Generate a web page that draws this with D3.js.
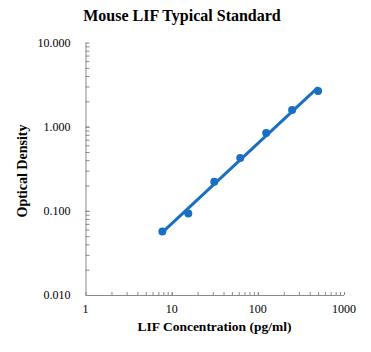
<!DOCTYPE html>
<html>
<head>
<meta charset="utf-8">
<script src="https://cdn.jsdelivr.net/npm/d3@7"></script>
<style>
  body { margin: 0; background: #fff; }
  text { font-family: "Liberation Serif", "Times New Roman", serif; }
</style>
</head>
<body>
<div id="chart"></div>
<script>
// standard curve values
var conc = [7.8, 15.6, 31.25, 62.5, 125, 250, 500];
var od = [0.057, 0.093, 0.222, 0.425, 0.84, 1.58, 2.65];
var xTicks = [1, 10, 100, 1000];
var yTicks = [0.01, 0.1, 1, 10];

var svg = d3.select("#chart")
    .append("svg")
    .attr("width", 371)
    .attr("height", 352);

var margin = {top: 42.5, right: 27, bottom: 57, left: 85.5},
    width = +svg.attr("width") - margin.left - margin.right,
    height = +svg.attr("height") - margin.top - margin.bottom;

var x = d3.scaleLog().domain([1, 1000]).range([0, width]),
    y = d3.scaleLog().domain([0.01, 10]).range([height, 0]);

var g = svg.append("g")
    .attr("transform", "translate(" + margin.left + "," + margin.top + ")");

var axisColor = "#898989";
var blue = "#1a70c0";

// minor ticks (2..9 in each decade)
function minors(dom) {
  var out = [];
  for (var d = dom[0]; d < dom[1]; d *= 10)
    for (var k = 1; k <= 10; k++) out.push(d * k);
  return out;
}

var xAxis = g.append("g")
    .attr("transform", "translate(0," + height + ")")
    .call(d3.axisBottom(x).tickValues(minors(x.domain())).tickSize(-3).tickFormat(""));
xAxis.select(".domain").attr("stroke", axisColor).attr("d", "M0.5,0.5H" + width);
xAxis.selectAll(".tick line").attr("stroke", axisColor);

g.selectAll(".xlab")
    .data(xTicks)
  .enter().append("text")
    .attr("class", "xlab")
    .attr("x", function(d) { return x(d); })
    .attr("y", height + 18)
    .attr("text-anchor", "middle")
    .style("font-size", "12px")
    .text(function(d) { return d; });

var yAxis = g.append("g")
    .call(d3.axisLeft(y).tickValues(minors(y.domain())).tickSize(-4).tickFormat(""));
yAxis.select(".domain").attr("stroke", axisColor).attr("d", "M0.5," + (height + 0.5) + "V0");
yAxis.selectAll(".tick line").attr("stroke", axisColor);

g.selectAll(".ylab")
    .data(yTicks)
  .enter().append("text")
    .attr("class", "ylab")
    .attr("x", -15)
    .attr("y", function(d) { return y(d); })
    .attr("dy", "0.35em")
    .attr("text-anchor", "end")
    .style("font-size", "12px")
    .text(function(d) { return d3.format(".3f")(d); });

// power trendline (least squares in log-log)
var lx = conc.map(Math.log), ly = od.map(Math.log);
var mx = d3.mean(lx), my = d3.mean(ly);
var b = d3.sum(lx, function(v, i) { return (v - mx) * (ly[i] - my); }) /
        d3.sum(lx, function(v) { return (v - mx) * (v - mx); });
var a = my - b * mx;
var fit = function(c) { return Math.exp(a + b * Math.log(c)); };
var ends = [conc[0], conc[conc.length - 1]];

g.append("path")
    .datum(ends)
    .attr("fill", "none")
    .attr("stroke", blue)
    .attr("stroke-width", 3)
    .attr("d", d3.line()
      .x(function(d) { return x(d); })
      .y(function(d) { return y(fit(d)); }));

g.selectAll(".dot")
    .data(conc)
  .enter().append("circle")
    .attr("class", "dot")
    .attr("cx", function(d) { return x(d); })
    .attr("cy", function(d, i) { return y(od[i]); })
    .attr("r", 4)
    .attr("fill", blue);

svg.append("text")
    .attr("x", 182)
    .attr("y", 21)
    .attr("text-anchor", "middle")
    .style("font-size", "16px")
    .style("font-weight", "bold")
    .text("Mouse LIF Typical Standard");

svg.append("text")
    .attr("x", 214.5)
    .attr("y", 331)
    .attr("text-anchor", "middle")
    .style("font-size", "13.5px")
    .style("font-weight", "bold")
    .text("LIF Concentration (pg/ml)");

svg.append("text")
    .attr("transform", "translate(27," + 171 + ") rotate(-90)")
    .attr("text-anchor", "middle")
    .style("font-size", "14px")
    .style("font-weight", "bold")
    .text("Optical Density");
</script>
</body>
</html>
